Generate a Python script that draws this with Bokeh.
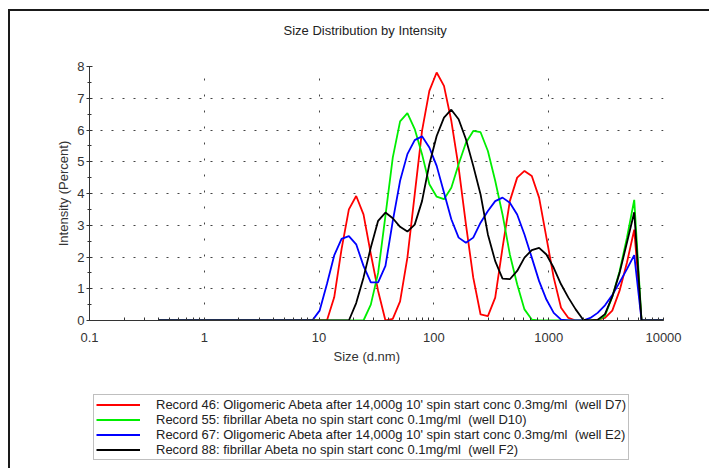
from bokeh.plotting import figure
from bokeh.layouts import column
from bokeh.models import (Range1d, FixedTicker, Legend, LegendItem, Title, ColumnDataSource)
from bokeh.embed import file_html
from bokeh.resources import INLINE

# Size bins (d.nm)
sizes = [0.4, 0.4632, 0.5365, 0.6213, 0.7195, 0.8332, 0.9649, 1.117, 1.294, 1.499,
         1.736, 2.01, 2.328, 2.696, 3.122, 3.615, 4.187, 4.849, 5.615, 6.503,
         7.531, 8.721, 10.1, 11.7, 13.54, 15.69, 18.17, 21.04, 24.36, 28.21,
         32.67, 37.84, 43.82, 50.75, 58.77, 68.06, 78.82, 91.28, 105.7, 122.4,
         141.8, 164.2, 190.1, 220.2, 255.0, 295.3, 342.0, 396.1, 458.7, 531.2,
         615.1, 712.4, 825.0, 955.4, 1106, 1281, 1484, 1718, 1990, 2305,
         2669, 3091, 3580, 4145, 4801, 5560, 6439, 7456, 8635, 10000]

rec46 = [0, 0, 0, 0, 0, 0, 0, 0, 0, 0,
         0, 0, 0, 0, 0, 0, 0, 0, 0, 0,
         0, 0, 0, 0.0, 0.73, 2.25, 3.5, 3.92, 3.34, 2.1,
         0.93, 0.0, 0.05, 0.6, 1.98, 3.97, 5.97, 7.23, 7.81, 7.39,
         6.29, 4.82, 3.03, 1.35, 0.19, 0.14, 0.72, 2.29, 3.76, 4.5,
         4.71, 4.55, 3.87, 2.61, 1.35, 0.4, 0.08, 0, 0, 0,
         0.03, 0.08, 0.31, 0.94, 1.82, 2.86, 0, 0, 0, 0]

rec55 = [0, 0, 0, 0, 0, 0, 0, 0, 0, 0,
         0, 0, 0, 0, 0, 0, 0, 0, 0, 0,
         0, 0, 0, 0, 0, 0, 0, 0, 0.0, 0.5,
         1.5, 3.3, 5.13, 6.27, 6.53, 6.03, 5.24, 4.29, 3.9, 3.82,
         4.18, 4.92, 5.6, 5.97, 5.93, 5.34, 4.4, 3.34, 2.08, 1.14,
         0.35, 0.03, 0, 0, 0, 0, 0, 0, 0, 0,
         0, 0.15, 0.75, 1.55, 2.6, 3.8, 0, 0, 0, 0]

rec67 = [0, 0, 0, 0, 0, 0, 0, 0, 0, 0,
         0, 0, 0, 0, 0, 0, 0, 0, 0, 0,
         0, 0, 0.31, 1.15, 2.05, 2.57, 2.66, 2.4, 1.72, 1.2,
         1.2, 1.72, 3.13, 4.4, 5.24, 5.68, 5.8, 5.45, 4.87, 4.03,
         3.19, 2.61, 2.45, 2.61, 3.08, 3.45, 3.76, 3.87, 3.71, 3.34,
         2.71, 1.98, 1.24, 0.66, 0.24, 0.03, 0, 0, 0, 0.08,
         0.24, 0.48, 0.8, 1.2, 1.62, 2.06, 0, 0, 0, 0]

rec88 = [0, 0, 0, 0, 0, 0, 0, 0, 0, 0,
         0, 0, 0, 0, 0, 0, 0, 0, 0, 0,
         0, 0, 0, 0, 0, 0, 0, 0.55, 1.35, 2.3,
         3.14, 3.4, 3.22, 2.95, 2.8, 3.02, 3.76, 4.92, 5.81, 6.39,
         6.64, 6.34, 5.71, 4.87, 3.97, 2.71, 1.87, 1.32, 1.3, 1.56,
         1.98, 2.22, 2.29, 2.08, 1.66, 1.14, 0.72, 0.35, 0.03, 0,
         0.02, 0.2, 0.75, 1.5, 2.45, 3.41, 0, 0, 0, 0]

labels = [
    "Record 46: Oligomeric Abeta after 14,000g 10' spin start conc 0.3mg/ml  (well D7)",
    "Record 55: fibrillar Abeta no spin start conc 0.1mg/ml  (well D10)",
    "Record 67: Oligomeric Abeta after 14,000g 10' spin start conc 0.3mg/ml  (well E2)",
    "Record 88: fibrillar Abeta no spin start conc 0.1mg/ml  (well F2)",
]
series = [rec46, rec55, rec67, rec88]
colors = ["#ff0000", "#00ee00", "#0000ff", "#000000"]

x_ticks = [0.1, 1, 10, 100, 1000, 10000]
x_tick_labels = ["0.1", "1", "10", "100", "1000", "10000"]
x_minor = [m * d for d in [0.1, 1, 10, 100, 1000] for m in range(2, 10)]
y_ticks = [0, 1, 2, 3, 4, 5, 6, 7, 8]
y_minor = [0.5, 1.5, 2.5, 3.5, 4.5, 5.5, 6.5, 7.5]

FONT = "Liberation Sans"

sources = [ColumnDataSource(data=dict(size=sizes, intensity=ys)) for ys in series]

p = figure(width=699, height=375, x_axis_type="log",
           x_range=Range1d(0.1, 10000), y_range=Range1d(0, 8),
           output_backend="svg", toolbar_location=None,
           min_border_left=79, min_border_right=46,
           min_border_top=55, min_border_bottom=66)
p.outline_line_color = None
p.background_fill_color = "white"
p.border_fill_color = "white"

# spacer between frame and title (nearest to the frame)
p.add_layout(Title(text=" ", text_font=FONT, text_font_size="13px", standoff=10), "above")
t = Title(text="Size Distribution by Intensity", align="left", offset=194,
          text_font=FONT, text_font_size="13px", text_font_style="normal",
          text_color="#222222", standoff=4)
p.add_layout(t, "above")

for src, c in zip(sources, colors):
    p.line("size", "intensity", source=src, line_color=c, line_width=1.8)

# axes
xa = p.xaxis[0]
xa.ticker = FixedTicker(ticks=x_ticks, minor_ticks=x_minor)
xa.major_label_overrides = {v: s for v, s in zip(x_ticks, x_tick_labels)}
xa.major_tick_in = 3
xa.major_tick_out = 0
xa.minor_tick_in = 3
xa.minor_tick_out = 0
xa.major_label_standoff = 12

ya = p.yaxis[0]
ya.ticker = FixedTicker(ticks=y_ticks, minor_ticks=y_minor)
ya.major_tick_in = 3
ya.major_tick_out = 3
ya.minor_tick_in = 2
ya.minor_tick_out = 2
ya.major_label_standoff = 2
ya.axis_label = "Intensity (Percent)"
ya.axis_label_standoff = 3
ya.axis_label_text_font = FONT
ya.axis_label_text_font_size = "13px"
ya.axis_label_text_font_style = "normal"
ya.axis_label_text_color = "#333333"

for ax in (xa, ya):
    ax.axis_line_color = "#333333"
    ax.major_tick_line_color = "#333333"
    ax.minor_tick_line_color = "#333333"
    ax.major_label_text_font = FONT
    ax.major_label_text_font_size = "13px"
    ax.major_label_text_color = "#333333"

xt = Title(text="Size (d.nm)", align="left", offset=244,
           text_font=FONT, text_font_size="13px", text_font_style="normal",
           text_color="#333333", standoff=4)
p.add_layout(xt, "below")

# grids
p.xgrid.ticker = FixedTicker(ticks=[1, 10, 100, 1000, 10000])
p.ygrid.ticker = FixedTicker(ticks=[1, 2, 3, 4, 5, 6, 7, 8])
p.xgrid.grid_line_color = "#444444"
p.xgrid.grid_line_dash = "2 14"
p.ygrid.grid_line_color = "#444444"
p.ygrid.grid_line_dash = "2 9"

# legend panel (separate canvas below the plot; its ranges keep the
# series out of view so only the legend shows)
q = figure(width=699, height=82, x_range=Range1d(-20, -10), y_range=Range1d(-20, -10),
           output_backend="svg", toolbar_location=None,
           x_axis_location=None, y_axis_location=None, min_border=0)
q.outline_line_color = None
q.grid.visible = False
q.background_fill_color = "white"
q.border_fill_color = "white"
leg_renderers = [q.line("size", "intensity", source=src, line_color=c, line_width=1.8)
                 for src, c in zip(sources, colors)]

legend = Legend(items=[LegendItem(label=l, renderers=[r]) for l, r in zip(labels, leg_renderers)],
                location=(4, 8), orientation="vertical")
legend.label_text_font = FONT
legend.label_text_font_size = "13px"
legend.label_text_color = "#222222"
legend.glyph_width = 44
legend.glyph_height = 15
legend.label_height = 15
legend.label_standoff = 16
legend.padding = 2
legend.spacing = 0
legend.margin = 0
legend.border_line_color = "#808080"
legend.border_line_width = 1
legend.background_fill_color = "white"
legend.background_fill_alpha = 1
q.add_layout(legend, "center")

layout = column(p, q, spacing=0)
layout.styles = {"margin-left": "8px", "margin-top": "9px",
                 "border-left": "2px solid #1a1a1a", "border-top": "2px solid #1a1a1a"}

open("out.html", "w").write(file_html(layout, INLINE))
